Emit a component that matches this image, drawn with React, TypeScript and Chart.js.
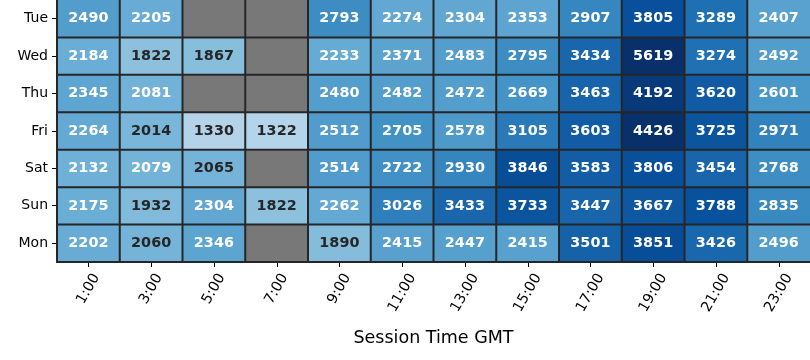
import React, { useEffect, useRef } from "react";
import { Chart, registerables } from "chart.js";

Chart.register(...registerables);

// ---------- data ----------
const days = ["Tue", "Wed", "Thu", "Fri", "Sat", "Sun", "Mon"];
const hours = ["1:00", "3:00", "5:00", "7:00", "9:00", "11:00", "13:00", "15:00", "17:00", "19:00", "21:00", "23:00"];

const tue = [2490, 2205, null, null, 2793, 2274, 2304, 2353, 2907, 3805, 3289, 2407];
const wed = [2184, 1822, 1867, null, 2233, 2371, 2483, 2795, 3434, 5619, 3274, 2492];
const thu = [2345, 2081, null, null, 2480, 2482, 2472, 2669, 3463, 4192, 3620, 2601];
const fri = [2264, 2014, 1330, 1322, 2512, 2705, 2578, 3105, 3603, 4426, 3725, 2971];
const sat = [2132, 2079, 2065, null, 2514, 2722, 2930, 3846, 3583, 3806, 3454, 2768];
const sun = [2175, 1932, 2304, 1822, 2262, 3026, 3433, 3733, 3447, 3667, 3788, 2835];
const mon = [2202, 2060, 2346, null, 1890, 2415, 2447, 2415, 3501, 3851, 3426, 2496];

const rows: (number | null)[][] = [tue, wed, thu, fri, sat, sun, mon];

const xTitle = "Session Time GMT";

// ---------- colour scale (matplotlib "Blues") ----------
const VMIN = 0;
const VMAX = 4335;
const BLUES = [
  [247, 251, 255],
  [222, 235, 247],
  [198, 219, 239],
  [158, 202, 225],
  [107, 174, 214],
  [66, 146, 198],
  [33, 113, 181],
  [8, 81, 156],
  [8, 48, 107],
];
const MISSING = "#787878";
const DARK_TEXT = "#262626";
const LINE = "#262626";

function bluesRGB(v: number): number[] {
  let t = (v - VMIN) / (VMAX - VMIN);
  t = Math.max(0, Math.min(1, t));
  const pos = t * (BLUES.length - 1);
  const i = Math.min(BLUES.length - 2, Math.floor(pos));
  const f = pos - i;
  const a = BLUES[i];
  const b = BLUES[i + 1];
  return [0, 1, 2].map((k) => a[k] + (b[k] - a[k]) * f);
}
function rgbStr(c: number[]) {
  return `rgb(${Math.round(c[0])},${Math.round(c[1])},${Math.round(c[2])})`;
}
function luminance(c: number[]) {
  const lin = c.map((x) => {
    const s = x / 255;
    return s <= 0.03928 ? s / 12.92 : Math.pow((s + 0.055) / 1.055, 2.4);
  });
  return 0.2126 * lin[0] + 0.7152 * lin[1] + 0.0722 * lin[2];
}
function cellColor(v: number | null) {
  return v == null ? MISSING : rgbStr(bluesRGB(v));
}
function textColor(v: number) {
  return luminance(bluesRGB(v)) > 0.408 ? DARK_TEXT : "#ffffff";
}

const FONT = '"DejaVu Sans", "Liberation Sans", sans-serif';

const overlay = {
  id: "heatOverlay",
  afterDatasetsDraw(chart: any) {
    const ctx = chart.ctx as CanvasRenderingContext2D;
    const xs = chart.scales.x;
    const ys = chart.scales.y;
    const area = chart.chartArea;
    ctx.save();
    // cell edges
    ctx.strokeStyle = LINE;
    ctx.lineWidth = 2;
    const step = xs.getPixelForValue(1) - xs.getPixelForValue(0);
    for (let c = 0; c < hours.length; c++) {
      const px = xs.getPixelForValue(c) - step / 2;
      ctx.beginPath();
      ctx.moveTo(px, area.top);
      ctx.lineTo(px, area.bottom);
      ctx.stroke();
    }
    for (let r = 1; r <= days.length; r++) {
      const py = ys.getPixelForValue(r);
      ctx.beginPath();
      ctx.moveTo(area.left - 1, py);
      ctx.lineTo(area.right, py);
      ctx.stroke();
    }
    // annotations
    ctx.font = `bold 14.4px ${FONT}`;
    ctx.textAlign = "center";
    ctx.textBaseline = "middle";
    rows.forEach((vals, r) => {
      const meta = chart.getDatasetMeta(r);
      vals.forEach((v, c) => {
        if (v == null) return;
        const el = meta.data[c];
        const p = el.getCenterPoint();
        ctx.fillStyle = textColor(v);
        ctx.fillText(String(v), p.x, p.y);
      });
    });
    ctx.restore();
  },
  afterDraw(chart: any) {
    const ctx = chart.ctx as CanvasRenderingContext2D;
    const xs = chart.scales.x;
    const area = chart.chartArea;
    ctx.save();
    // tick marks
    ctx.strokeStyle = "#000";
    ctx.lineWidth = 1;
    hours.forEach((_, i) => {
      const px = Math.round(xs.getPixelForValue(i)) + 0.5;
      ctx.beginPath();
      ctx.moveTo(px, area.bottom + 1);
      ctx.lineTo(px, area.bottom + 5);
      ctx.stroke();
    });
    // rotated labels (bbox centred on tick, top below tick)
    ctx.font = `14.4px ${FONT}`;
    ctx.fillStyle = "#000";
    ctx.textAlign = "center";
    ctx.textBaseline = "middle";
    const ang = (60 * Math.PI) / 180;
    hours.forEach((lab, i) => {
      const px = xs.getPixelForValue(i);
      const w = ctx.measureText(lab).width;
      const h = 16;
      const bboxH = w * Math.sin(ang) + h * Math.cos(ang);
      const top = area.bottom + 9;
      ctx.save();
      ctx.translate(px, top + bboxH / 2);
      ctx.rotate(-ang);
      ctx.fillText(lab, 0, 0);
      ctx.restore();
    });
    // axis title
    ctx.font = `17.5px ${FONT}`;
    ctx.fillText(xTitle, (area.left + area.right) / 2, 338);
    ctx.restore();
  },
};

export default function App() {
  const ref = useRef<HTMLCanvasElement | null>(null);
  useEffect(() => {
    if (!ref.current) return;
    const chart = new Chart(ref.current, {
      type: "bar",
      data: {
        labels: hours,
        datasets: rows.map((vals, r) => ({
          label: days[r],
          data: vals.map(() => 1),
          backgroundColor: vals.map((v) => cellColor(v)),
          borderWidth: 0,
          inflateAmount: 0.5,
          categoryPercentage: 1,
          barPercentage: 1,
        })),
      },
      options: {
        animation: false,
        responsive: false,
        layout: { padding: 0 },
        plugins: { legend: { display: false }, tooltip: { enabled: false } },
        scales: {
          x: {
            stacked: true,
            grid: { display: false },
            border: { display: false },
            ticks: { display: false },
            afterFit: (s: any) => {
              s.height = 98;
              s.paddingLeft = 0;
              s.paddingRight = 0;
            },
          },
          y: {
            stacked: true,
            min: 0,
            max: 7,
            reverse: true,
            afterBuildTicks: (s: any) => {
              s.ticks = days.map((_, i) => ({ value: i + 0.5 }));
            },
            ticks: {
              callback: (v: any) => days[Math.floor(Number(v))],
              color: "#000",
              font: { family: FONT, size: 14 },
              padding: 4,
              autoSkip: false,
            },
            grid: { drawOnChartArea: false, drawTicks: true, tickLength: 5, color: "#000", lineWidth: 1 },
            border: { display: false },
            afterFit: (s: any) => {
              s.width = 57;
              s.paddingTop = 0;
              s.paddingBottom = 0;
            },
          },
        },
      } as any,
      plugins: [overlay],
    });
    return () => chart.destroy();
  }, []);
  return (
    <div style={{ position: "fixed", left: 0, top: 0, width: 810, height: 360, background: "#fff" }}>
      <canvas ref={ref} width={810} height={360} style={{ display: "block" }} />
    </div>
  );
}
